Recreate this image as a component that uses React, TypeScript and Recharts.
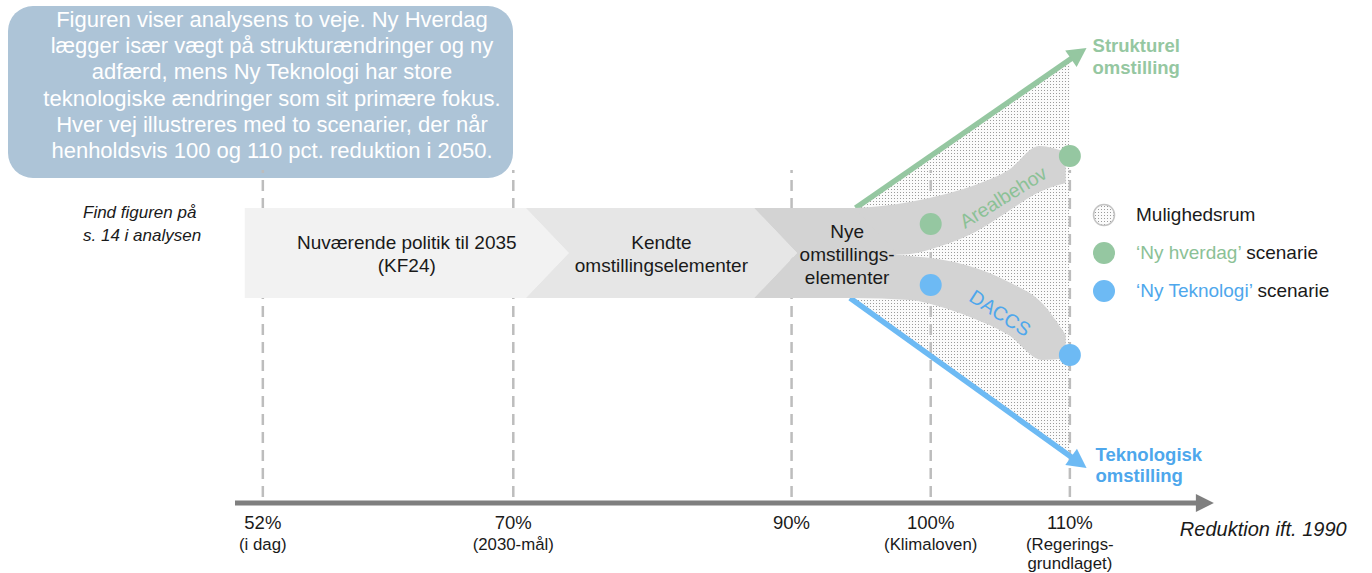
import React from "react";
import {
  ComposedChart,
  XAxis,
  YAxis,
  Area,
  Scatter,
  ReferenceLine,
  ReferenceArea,
  ReferenceDot,
  Legend,
} from "recharts";

const FONT = '"Liberation Sans", Arial, Helvetica, sans-serif';
const GREEN = "#95c7a1";
const BLUE = "#6dbaf4";
const GREEN_TEXT = "#8bc196";
const BLUE_TEXT = "#4ea7ec";
const INK = "#1a1a1a";

// x-akse: reduktion ift. 1990 (pct.)
const ticks = [52, 70, 90, 100, 110];
const tickLabels = [
  ["52%", "(i dag)"],
  ["70%", "(2030-mål)"],
  ["90%"],
  ["100%", "(Klimaloven)"],
  ["110%", "(Regerings-", "grundlaget)"],
];

// faser i pilen
const stageNames = [
  ["Nuværende politik til 2035", "(KF24)"],
  ["Kendte", "omstillingselementer"],
  ["Nye", "omstillings-", "elementer"],
];
const stageStart = [50.7, 70.9, 87.3];
const stageEnd = [70.9, 87.3, 94.5];
const stageFill = ["#f2f2f2", "#e6e6e6", "#d3d3d3"];

// scenarier (y = afstand fra midterlinjen, vilkårlig enhed)
const nyHverdag = [
  { x: 100, y: 14.5 },
  { x: 110, y: 48.5 },
];
const nyTeknologi = [
  { x: 100, y: -16 },
  { x: 110, y: -51 },
];

// mulighedsrum mellem de to omstillingspile
const mulighedsrum = [
  { x: 94.4, range: [-23, 21.5] },
  { x: 110, range: [-103, 98] },
];

// grenene
const arealbehovX = [94.5, 96.5, 98.5, 100.5, 103.2, 105.6, 107.8, 109.7];
const arealbehovTop = [22.5, 23.5, 25.5, 28.5, 34, 41.5, 53.5, 50.5];
const arealbehovBund = [-1.5, -1, -0.5, 3, 10.5, 21, 30.5, 35];

const daccsX = [94.5, 98.5, 100.5, 103, 105.6, 108, 109.7];
const daccsTop = [1.5, -1.5, -3, -7, -14.5, -25, -41];
const daccsBund = [-22.5, -23.5, -26.5, -32.5, -41, -53.5, -52.5];

// omstillingspile
const strukturel = [
  { x: 94.6, y: 22.5 },
  { x: 111.2, y: 102.5 },
];
const teknologisk = [
  { x: 94.2, y: -22.5 },
  { x: 111.2, y: -107.5 },
];

const arealbehov = arealbehovX.map((x, i) => ({ x, range: [arealbehovBund[i], arealbehovTop[i]] }));
const daccs = daccsX.map((x, i) => ({ x, range: [daccsBund[i], daccsTop[i]] }));

type ArrowOpts = {
  color: string;
  width: number;
  len: number;
  half: number;
  text?: string[];
  textColor?: string;
  dx?: number;
  dy?: number;
  gap?: number;
  size?: number;
  bold?: boolean;
  italic?: boolean;
};

const arrowShape = (o: ArrowOpts) => (p: any) => {
  const { x1, y1, x2, y2 } = p;
  const dx = x2 - x1;
  const dy = y2 - y1;
  const l = Math.hypot(dx, dy) || 1;
  const ux = dx / l;
  const uy = dy / l;
  const bx = x2 - ux * o.len;
  const by = y2 - uy * o.len;
  const nx = -uy * o.half;
  const ny = ux * o.half;
  return (
    <g>
      <line x1={x1} y1={y1} x2={bx + ux} y2={by + uy} stroke={o.color} strokeWidth={o.width} />
      <polygon points={`${x2},${y2} ${bx + nx},${by + ny} ${bx - nx},${by - ny}`} fill={o.color} />
      {(o.text || []).map((t, i) => (
        <text
          key={t}
          x={x2 + (o.dx || 0)}
          y={y2 + (o.dy || 0) + i * (o.gap || 22)}
          fontFamily={FONT}
          fontSize={o.size || 18.5}
          fontWeight={o.bold ? 700 : 400}
          fontStyle={o.italic ? "italic" : "normal"}
          fill={o.textColor || o.color}
        >
          {t}
        </text>
      ))}
    </g>
  );
};

const stageShape = (i: number) => (p: any) => {
  const { x, y, width, height } = p;
  const d = 43;
  const mid = y + height / 2;
  const pts = [
    [x, y],
    [x + width, y],
    [x + width + d, mid],
    [x + width, y + height],
    [x, y + height],
  ];
  if (i > 0) pts.push([x + d, mid]);
  const cx = x + width / 2 + (i === stageNames.length - 1 ? d : d / 2);
  const lines = stageNames[i];
  return (
    <g>
      <polygon points={pts.map((q) => q.join(",")).join(" ")} fill={stageFill[i]} />
      {lines.map((t, k) => (
        <text
          key={t}
          x={cx}
          y={mid + (k - (lines.length - 1) / 2) * 23 + 7.5}
          textAnchor="middle"
          fontFamily={FONT}
          fontSize={19}
          fill={INK}
        >
          {t}
        </text>
      ))}
    </g>
  );
};

const dotShape = (color: string) => (p: any) => <circle cx={p.cx} cy={p.cy} r={11} fill={color} />;

const branchLabel = (text: string, color: string, angle: number) => (p: any) => (
  <text
    x={p.cx}
    y={p.cy}
    transform={`rotate(${angle} ${p.cx} ${p.cy})`}
    textAnchor="middle"
    dominantBaseline="central"
    fontFamily={FONT}
    fontSize={19.5}
    fill={color}
  >
    {text}
  </text>
);

const AxisTick = (p: any) => {
  const lines = tickLabels[ticks.indexOf(p.payload?.value)] || [];
  const offs = [26, 47, 66];
  return (
    <g>
      {lines.map((t, i) => (
        <text
          key={t}
          x={p.x}
          y={p.y + offs[i]}
          textAnchor="middle"
          fontFamily={FONT}
          fontSize={i === 0 ? 18.5 : 16.8}
          fill={INK}
        >
          {t}
        </text>
      ))}
    </g>
  );
};

const LegendBox = () => {
  const rows = [
    { fill: "url(#prikker)", stroke: "#c4c4c4", colored: "", rest: "Mulighedsrum", color: INK },
    { fill: GREEN, stroke: "none", colored: "‘Ny hverdag’", rest: " scenarie", color: GREEN_TEXT },
    { fill: BLUE, stroke: "none", colored: "‘Ny Teknologi’", rest: " scenarie", color: BLUE_TEXT },
  ];
  return (
    <div style={{ fontFamily: FONT, fontSize: 19, color: INK }}>
      {rows.map((r) => (
        <div key={r.rest + r.colored} style={{ display: "flex", alignItems: "center", height: 38 }}>
          <svg width={24} height={24} style={{ marginRight: 20 }}>
            <circle cx={12} cy={12} r={r.stroke === "none" ? 11 : 10.5} fill={r.fill} stroke={r.stroke} strokeWidth={1.5} />
          </svg>
          <span>
            <span style={{ color: r.color }}>{r.colored}</span>
            {r.rest}
          </span>
        </div>
      ))}
    </div>
  );
};

const boxLines = [
  "Figuren viser analysens to veje. Ny Hverdag",
  "lægger især vægt på strukturændringer og ny",
  "adfærd, mens Ny Teknologi har store",
  "teknologiske ændringer som sit primære fokus.",
  "Hver vej illustreres med to scenarier, der når",
  "henholdsvis 100 og 110 pct. reduktion i 2050.",
];

export default function App() {
  return (
    <div
      style={{
        position: "absolute",
        left: 0,
        top: 0,
        width: 1372,
        height: 573,
        background: "#fff",
        fontFamily: FONT,
        overflow: "hidden",
      }}
    >
      <svg width={0} height={0} style={{ position: "absolute" }}>
        <defs>
          <pattern id="prikker" width={3} height={3} patternUnits="userSpaceOnUse">
            <rect width={3} height={3} fill="#fbfbfb" />
            <rect width={1} height={1} fill="#9b9b9b" />
          </pattern>
        </defs>
      </svg>

      <div
        style={{
          position: "absolute",
          left: 8,
          top: 6,
          width: 505,
          height: 172,
          borderRadius: 25,
          background: "#adc4d7",
          color: "#fff",
          fontSize: 22,
          lineHeight: "26.2px",
          textAlign: "center",
          boxSizing: "border-box",
          paddingTop: 1,
          paddingLeft: 23,
        }}
      >
        {boxLines.map((t) => (
          <div key={t} style={{ whiteSpace: "nowrap" }}>
            {t}
          </div>
        ))}
      </div>

      <div style={{ position: "absolute", left: 0, top: 0 }}>
        <ComposedChart width={1372} height={573} margin={{ top: 3, right: 163, bottom: 0, left: 235 }}>
          <XAxis
            type="number"
            dataKey="x"
            domain={[50, 120]}
            allowDataOverflow
            ticks={ticks}
            interval={0}
            height={70}
            axisLine={false}
            tickLine={false}
            tickSize={0}
            tickMargin={0}
            tick={(p: any) => <AxisTick {...p} />}
          />
          <YAxis type="number" domain={[-125, 125]} allowDataOverflow hide />

          <Area
            data={mulighedsrum}
            dataKey="range"
            type="linear"
            stroke="none"
            fill="url(#prikker)"
            fillOpacity={1}
            dot={false}
            activeDot={false}
            legendType="none"
            isAnimationActive={false}
            zIndex={101}
          />

          {ticks.map((t) => (
            <ReferenceLine
              key={t}
              segment={[
                { x: t, y: -122 },
                { x: t, y: 41.5 },
              ]}
              stroke="#bdbdbd"
              strokeWidth={2.5}
              strokeDasharray="11 7"
              zIndex={102}
            />
          ))}

          <ReferenceLine
            segment={[
              { x: 50, y: -125 },
              { x: 120.35, y: -125 },
            ]}
            ifOverflow="visible"
            zIndex={103}
            shape={arrowShape({
              color: "#7f7f7f",
              width: 5,
              len: 18,
              half: 9,
              text: ["Reduktion ift. 1990"],
              textColor: INK,
              dx: -34,
              dy: 33,
              size: 20,
              italic: true,
            })}
          />

          <ReferenceLine
            segment={strukturel}
            zIndex={104}
            shape={arrowShape({
              color: GREEN,
              width: 5.5,
              len: 19,
              half: 10,
              text: ["Strukturel", "omstilling"],
              dx: 6,
              dy: 4,
              gap: 22,
              bold: true,
            })}
          />
          <ReferenceLine
            segment={teknologisk}
            zIndex={104}
            shape={arrowShape({
              color: BLUE,
              width: 5.5,
              len: 19,
              half: 10,
              text: ["Teknologisk", "omstilling"],
              textColor: BLUE_TEXT,
              dx: 9,
              dy: -7,
              gap: 21,
              bold: true,
            })}
          />

          <Area
            data={arealbehov}
            dataKey="range"
            type="monotone"
            stroke="none"
            fill="#d3d3d3"
            fillOpacity={1}
            dot={false}
            activeDot={false}
            legendType="none"
            isAnimationActive={false}
            zIndex={105}
          />
          <Area
            data={daccs}
            dataKey="range"
            type="monotone"
            stroke="none"
            fill="#d3d3d3"
            fillOpacity={1}
            dot={false}
            activeDot={false}
            legendType="none"
            isAnimationActive={false}
            zIndex={105}
          />

          {stageNames.map((_, i) => (
            <ReferenceArea
              key={i}
              x1={stageStart[i]}
              x2={stageEnd[i]}
              y1={-22.5}
              y2={22.5}
              zIndex={106}
              shape={stageShape(i)}
            />
          ))}

          <Scatter
            data={nyHverdag}
            dataKey="y"
            fill={GREEN}
            shape={dotShape(GREEN)}
            legendType="none"
            isAnimationActive={false}
            zIndex={107}
          />
          <Scatter
            data={nyTeknologi}
            dataKey="y"
            fill={BLUE}
            shape={dotShape(BLUE)}
            legendType="none"
            isAnimationActive={false}
            zIndex={107}
          />

          <ReferenceDot x={105.2} y={28} r={1} zIndex={108} shape={branchLabel("Arealbehov", GREEN_TEXT, -32)} />
          <ReferenceDot x={105.0} y={-30} r={1} zIndex={108} shape={branchLabel("DACCS", BLUE_TEXT, 33)} />

          <Legend
            layout="horizontal"
            verticalAlign="middle"
            align="center"
            wrapperStyle={{ left: 1092, top: 196, width: 270, height: 114 }}
            content={() => <LegendBox />}
          />
        </ComposedChart>
      </div>

      <div
        style={{
          position: "absolute",
          left: 83,
          top: 201,
          fontSize: 17,
          fontStyle: "italic",
          lineHeight: "23px",
          color: INK,
        }}
      >
        Find figuren på
        <br />
        s. 14 i analysen
      </div>
    </div>
  );
}
